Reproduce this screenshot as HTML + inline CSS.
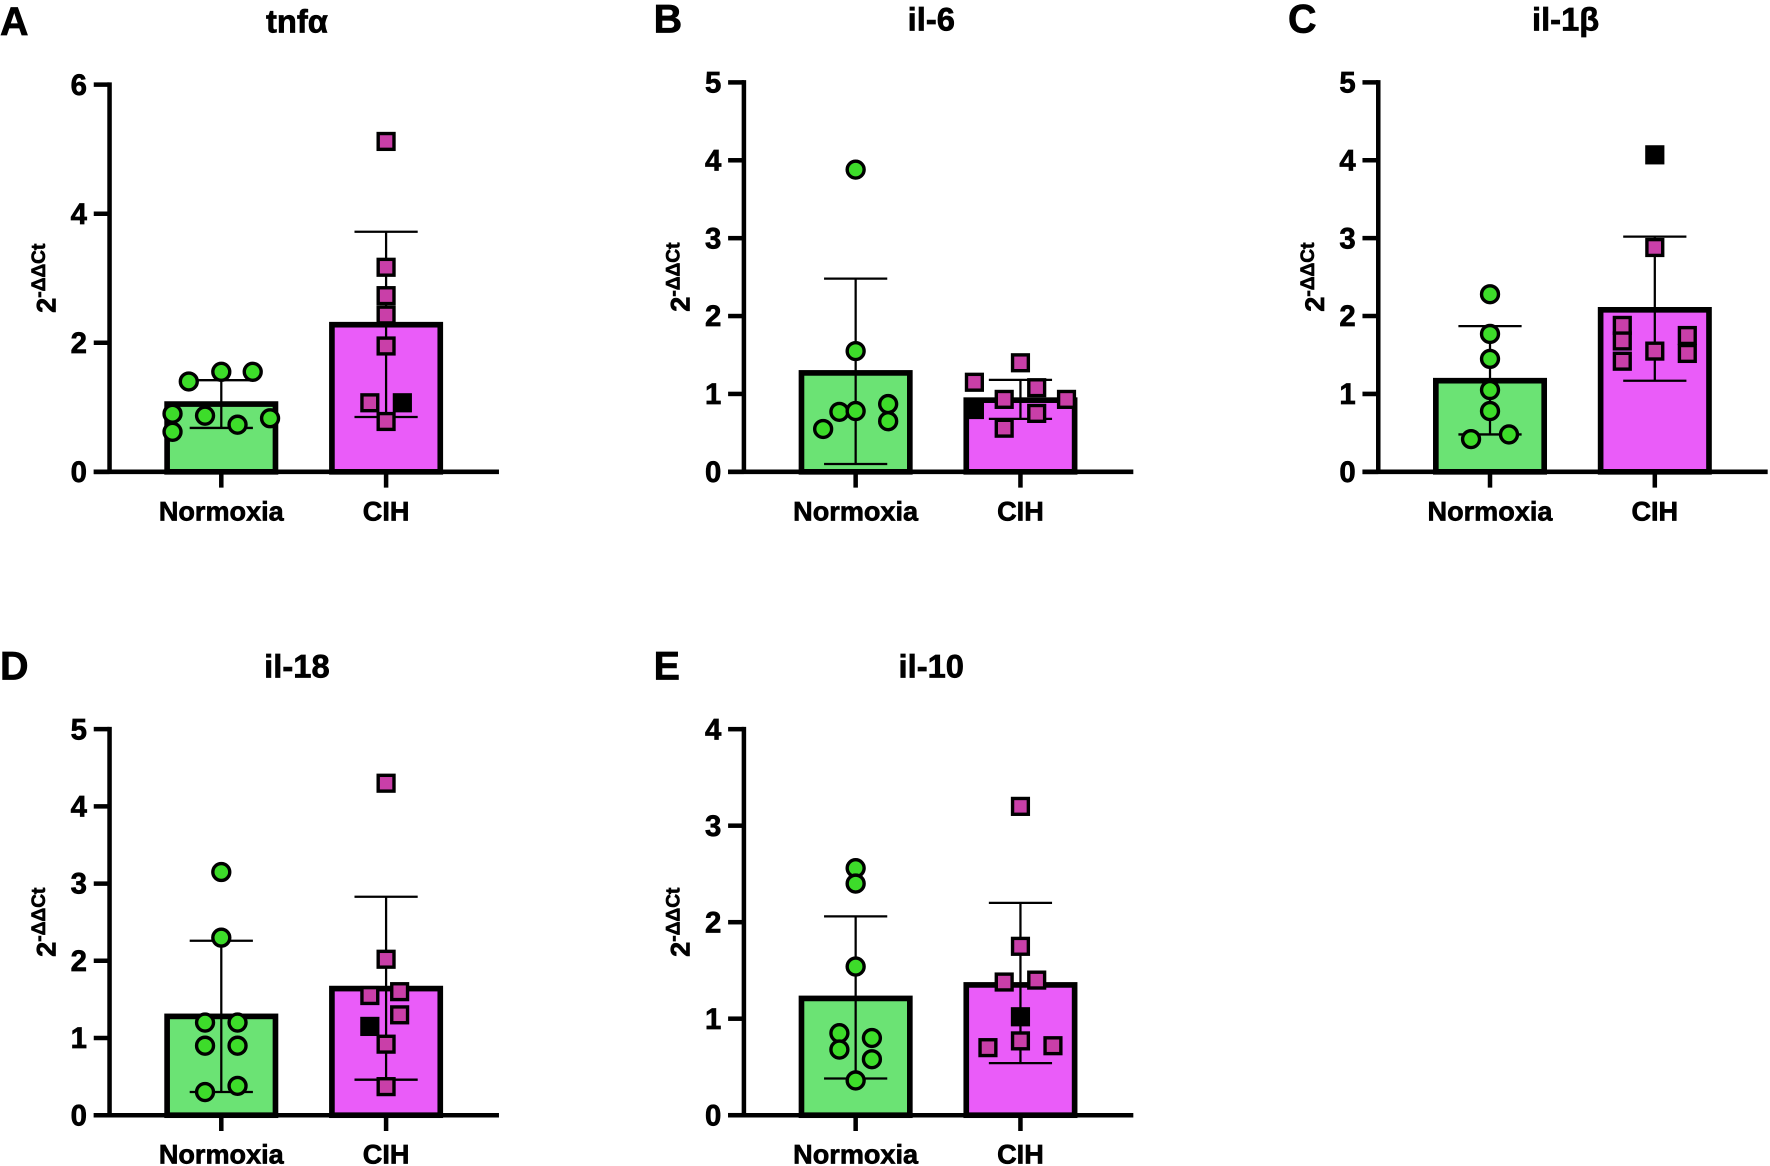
<!DOCTYPE html>
<html><head><meta charset="utf-8"><style>
html,body{margin:0;padding:0;background:#fff;}
svg{display:block;font-family:"Liberation Sans",Arial,sans-serif;font-weight:bold;}
svg text{stroke:#000;stroke-width:0.6;}
</style></head><body>
<svg id="fig" width="1770" height="1166" viewBox="0 0 1568 1033" xmlns="http://www.w3.org/2000/svg"></svg>
<script>
const panelLetters=["A","B","C","D","E"];
const panelTitles=["tnf\u03b1","il-6","il-1\u03b2","il-18","il-10"];
const yMaxes=[6,5,5,5,4];
const yStepsArr=[2,1,1,1,1];
const categories=["Normoxia","CIH"];
const barMeans=[[1.05,2.28],[1.27,0.92],[1.17,2.08],[1.28,1.64],[1.21,1.35]];
const errHigh=[[1.42,3.72],[2.48,1.18],[1.87,3.02],[2.26,2.83],[2.06,2.20]];
const errLow=[[0.68,0.85],[0.10,0.68],[0.48,1.17],[0.30,0.46],[0.38,0.54]];
const normPts=[
 [1.40,1.55,1.55,0.90,0.87,0.73,0.83,0.62],
 [3.88,1.55,0.77,0.55,0.78,0.87,0.65],
 [2.28,1.77,1.45,1.05,0.78,0.42,0.48],
 [3.15,2.30,1.20,1.20,0.90,0.90,0.30,0.38],
 [2.56,2.40,1.54,0.85,0.80,0.68,0.58,0.36]];
const normJit=[
 [-0.6,0,0.58,-0.9,-0.3,0.3,0.9,-0.9],
 [0,0,-0.3,-0.6,0,0.6,0.6],
 [0,0,0,0,0,-0.35,0.35],
 [0,0,-0.3,0.3,-0.3,0.3,-0.3,0.3],
 [0,0,0,-0.3,0.3,-0.3,0.3,0]];
const cihPts=[
 [5.12,3.17,2.73,2.43,1.95,1.07,1.07,0.78],
 [1.15,1.40,0.80,0.93,1.08,0.56,0.75,0.93],
 [4.07,2.88,1.88,1.68,1.42,1.55,1.75,1.52],
 [4.30,2.02,1.55,1.60,1.15,1.30,0.92,0.37],
 [3.20,1.75,1.38,1.40,1.02,0.70,0.77,0.72]];
const cihJit=[
 [0,0,0,0,0,-0.3,0.3,0],
 [-0.85,0,-0.85,-0.3,0.3,-0.3,0.3,0.85],
 [0,0,-0.6,-0.6,-0.6,0,0.6,0.6],
 [0,0,-0.3,0.25,-0.3,0.25,0,0],
 [0,0,-0.3,0.3,0,-0.6,0,0.6]];
const cihBlack=[6,2,0,4,4];
const axX=[97,659,1221,97,659], axTop=[75,73,73,646,646], axBot=[418,418,418,988,988];
const svg=document.getElementById('fig');const NS="http://www.w3.org/2000/svg";
function mk(t,a,p){const e=document.createElementNS(NS,t);for(const k in a)e.setAttribute(k,a[k]);(p||svg).appendChild(e);return e;}
for(let i=0;i<5;i++){
 const g=mk('g',{});
 
 
 const x0=axX[i],yT=axTop[i],yB=axBot[i],ym=yMaxes[i];
 const Y=v=>yB-(v/ym)*(yB-yT);
 const cx=[x0+99,x0+245],bw=96,hw=bw/2;
 const letter=mk('text',{x:(i%3==0?0:x0-80),y:yT-44,'font-size':35},g);letter.textContent=panelLetters[i];
 
 const t=mk('text',{x:x0+166,y:yT-46,'font-size':29,'text-anchor':'middle'},g);t.textContent=panelTitles[i];
 
 const yl=mk('text',{transform:`translate(${x0-48},${(yT+yB)/2}) rotate(-90)`,'font-size':24,'text-anchor':'middle'},g);
 yl.innerHTML='2<tspan font-size="17" dy="-9">-\u0394\u0394Ct</tspan>';
 
 const fills=['#6be374','#ea5cf9'];
 for(let c=0;c<2;c++){
  const r=mk('rect',{x:cx[c]-hw,y:Y(barMeans[i][c]),width:bw,height:yB-Y(barMeans[i][c]),fill:fills[c],stroke:'#000','stroke-width':5},g);
  
 }
 for(let c=0;c<2;c++){
  const eg=mk('g',{stroke:'#000','stroke-width':2},g);
  
  mk('line',{x1:cx[c],x2:cx[c],y1:Y(errHigh[i][c]),y2:Y(errLow[i][c])},eg);
  mk('line',{x1:cx[c]-28,x2:cx[c]+28,y1:Y(errHigh[i][c]),y2:Y(errHigh[i][c])},eg);
  mk('line',{x1:cx[c]-28,x2:cx[c]+28,y1:Y(errLow[i][c]),y2:Y(errLow[i][c])},eg);
 }
 normPts[i].forEach((v,k)=>{
  const p=mk('circle',{cx:cx[0]+normJit[i][k]*hw,cy:Y(v),r:7.5,fill:'#3ddc2a',stroke:'#000','stroke-width':3},g);
  
 });
 cihPts[i].forEach((v,k)=>{
  const b=k==cihBlack[i];
  const p=mk('rect',{x:cx[1]+cihJit[i][k]*hw-7,y:Y(v)-7,width:14,height:14,fill:b?'#000':'#c93fa8',stroke:'#000','stroke-width':3},g);
  
 });
 const ax=mk('g',{stroke:'#000','stroke-width':4},g);
 
 mk('line',{x1:x0,x2:x0,y1:yT-2,y2:yB},ax);
 mk('line',{x1:x0-14,x2:x0+345,y1:yB,y2:yB},ax);
 for(let v=0;v<=ym;v+=yStepsArr[i]){
  mk('line',{x1:x0-14,x2:x0,y1:Y(v),y2:Y(v)},ax);
  const tl=mk('text',{x:x0-20,y:Y(v)+9,'font-size':26,'text-anchor':'end'},g);tl.textContent=v;
  
 }
 for(let c=0;c<2;c++){
  mk('line',{x1:cx[c],x2:cx[c],y1:yB,y2:yB+14},ax);
  const cl=mk('text',{x:cx[c],y:yB+43,'font-size':24,'text-anchor':'middle'},g);cl.textContent=categories[c];
  
 }
}
</script>
</body></html>
